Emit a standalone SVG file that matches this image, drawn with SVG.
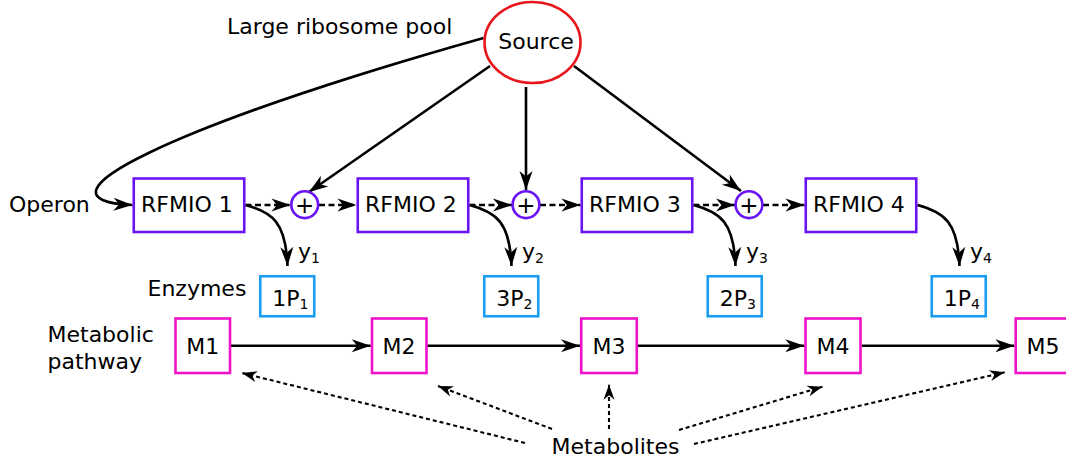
<svg xmlns="http://www.w3.org/2000/svg" width="1066" height="463" viewBox="0 0 1066 463">
<style>
text{font-family:"DejaVu Sans","Liberation Sans",sans-serif;font-size:22px;fill:#000}
.sub{font-size:14px}
.op{fill:#fff;stroke:#6a14f5;stroke-width:2.6}
.enz{fill:#fff;stroke:#1a9cf0;stroke-width:2.6}
.met{fill:#fff;stroke:#ef12c8;stroke-width:2.6}
.src{fill:#fff;stroke:#e8161b;stroke-width:2.6}
.c{fill:none;stroke:#000;stroke-width:2.6}
.a{marker-end:url(#ah)}
.d{stroke-dasharray:6 3.5}
.dm{fill:none;stroke:#000;stroke-width:2.1;stroke-dasharray:4 3;marker-end:url(#as)}
.m{text-anchor:middle}
.p{font-size:23px}
</style>
<defs>
<marker id="ah" markerUnits="userSpaceOnUse" markerWidth="21" markerHeight="14" refX="19" refY="6.5" orient="auto" overflow="visible">
<path d="M0,0 L19,6.5 L0,13 L5.5,6.5 Z" fill="#000"/>
</marker>
<marker id="as" markerUnits="userSpaceOnUse" markerWidth="16" markerHeight="12" refX="15" refY="5.5" orient="auto" overflow="visible">
<path d="M0,0 L15,5.5 L0,11 L4.5,5.5 Z" fill="#000"/>
</marker>
</defs>

<g id="connectors">
<path class="c a" d="M483.5,38 C175,125 20,200 132.5,205"/>
<path class="c a" d="M490,66 L309,192"/>
<path class="c a" d="M526,87 L526,190"/>
<path class="c a" d="M574,66 L741,191"/>
<path class="c a d" d="M245.5,205 L290.5,205"/>
<path class="c a d" d="M319,205 L356.5,205"/>
<path class="c a d" d="M469.5,205 L512,205"/>
<path class="c a d" d="M540,205 L580.5,205"/>
<path class="c a d" d="M693.5,205 L735,205"/>
<path class="c a d" d="M763,205 L804.5,205"/>
<path class="c a" d="M245.5,205 C272,212 286,222 287.5,266"/>
<path class="c a" d="M469.5,205 C496,212 510,222 511.5,266"/>
<path class="c a" d="M693.5,205 C720,212 734,222 735.5,266"/>
<path class="c a" d="M917.5,205 C944,212 958,222 959.5,266"/>
<path class="c a" d="M231,345.7 L370.7,345.7"/>
<path class="c a" d="M427.3,345.7 L580,345.7"/>
<path class="c a" d="M638,345.7 L804.3,345.7"/>
<path class="c a" d="M861.7,345.7 L1014.4,345.7"/>
<path class="dm" d="M525,443 L242,373"/>
<path class="dm" d="M552,429 L438,386"/>
<path class="dm" d="M609,429 L609,384.7"/>
<path class="dm" d="M679,430 L822.4,386.7"/>
<path class="dm" d="M694,444 L1004.7,372.3"/>
</g>

<g id="labels">
<text x="227" y="34">Large ribosome pool</text>
<text x="9" y="212">Operon</text>
<text x="147.5" y="295.5">Enzymes</text>
<text x="47.5" y="342">Metabolic</text>
<text x="47.5" y="368.5">pathway</text>
<text x="551.6" y="454">Metabolites</text>
<text x="298" y="259">y<tspan class="sub" dy="4">1</tspan></text>
<text x="522" y="259">y<tspan class="sub" dy="4">2</tspan></text>
<text x="746" y="259">y<tspan class="sub" dy="4">3</tspan></text>
<text x="970" y="259">y<tspan class="sub" dy="4">4</tspan></text>
</g>

<g id="source">
<ellipse class="src" cx="532.5" cy="42.5" rx="48" ry="40.5"/>
<text x="536" y="48.5" class="m">Source</text>
</g>

<g id="rfmio1"><rect class="op" x="133.75" y="178.5" width="110.5" height="53.5"/><text x="141" y="212">RFMIO 1</text></g>
<g id="rfmio2"><rect class="op" x="357.75" y="178.5" width="110.5" height="53.5"/><text x="365" y="212">RFMIO 2</text></g>
<g id="rfmio3"><rect class="op" x="581.75" y="178.5" width="110.5" height="53.5"/><text x="589" y="212">RFMIO 3</text></g>
<g id="rfmio4"><rect class="op" x="805.75" y="178.5" width="110.5" height="53.5"/><text x="813" y="212">RFMIO 4</text></g>

<g id="plus1"><circle class="op" cx="304.7" cy="204.7" r="13.4"/><text x="304.7" y="212.6" class="m p">+</text></g>
<g id="plus2"><circle class="op" cx="526" cy="204.7" r="13.4"/><text x="526" y="212.6" class="m p">+</text></g>
<g id="plus3"><circle class="op" cx="749" cy="204.7" r="13.4"/><text x="749" y="212.6" class="m p">+</text></g>

<g id="enz1"><rect class="enz" x="260.25" y="276.25" width="54" height="40"/><text x="272.3" y="305.5">1P<tspan class="sub" dy="3">1</tspan></text></g>
<g id="enz2"><rect class="enz" x="484.25" y="276.25" width="54" height="40"/><text x="496.3" y="305.5">3P<tspan class="sub" dy="3">2</tspan></text></g>
<g id="enz3"><rect class="enz" x="707.75" y="276.25" width="54" height="40"/><text x="719.8" y="305.5">2P<tspan class="sub" dy="3">3</tspan></text></g>
<g id="enz4"><rect class="enz" x="931.75" y="276.25" width="54" height="40"/><text x="943.8" y="305.5">1P<tspan class="sub" dy="3">4</tspan></text></g>

<g id="m1"><rect class="met" x="175.5" y="318.5" width="54.5" height="54.5"/><text x="202.7" y="354" class="m">M1</text></g>
<g id="m2"><rect class="met" x="372" y="318.5" width="54.5" height="54.5"/><text x="399" y="354" class="m">M2</text></g>
<g id="m3"><rect class="met" x="581.25" y="318.5" width="55.5" height="54.5"/><text x="609" y="354" class="m">M3</text></g>
<g id="m4"><rect class="met" x="805.5" y="318.5" width="55" height="54.5"/><text x="833" y="354" class="m">M4</text></g>
<g id="m5"><rect class="met" x="1015.7" y="318.5" width="55" height="54.5"/><text x="1043" y="354" class="m">M5</text></g>
</svg>
